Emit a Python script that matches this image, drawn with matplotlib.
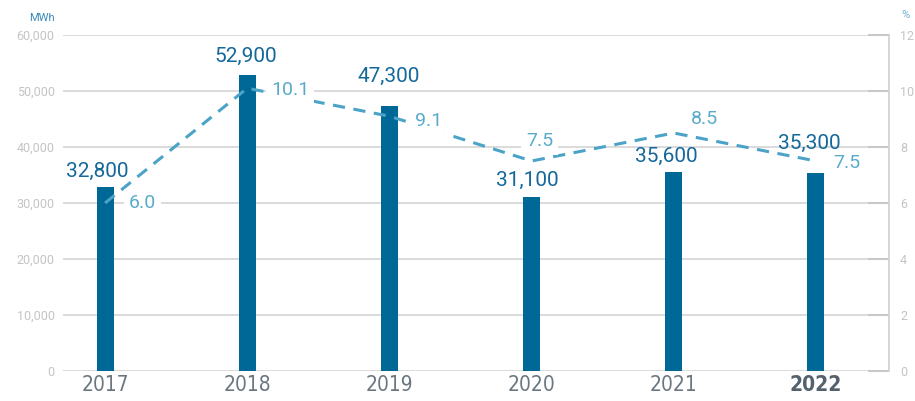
import matplotlib
matplotlib.use("Agg")
import matplotlib.pyplot as plt
from matplotlib import font_manager as fm

years = ["2017", "2018", "2019", "2020", "2021", "2022"]
energy_mwh = [32800, 52900, 47300, 31100, 35600, 35300]
share_pct = [6.0, 10.1, 9.1, 7.5, 8.5, 7.5]
left_ticks = [0, 10000, 20000, 30000, 40000, 50000, 60000]
right_ticks = [0, 2, 4, 6, 8, 10, 12]

plt.rcParams['font.family'] = ['Roboto', 'DejaVu Sans']

BAR = "#006896"
LINE = "#4ba3c7"
BARTXT = "#14689a"
LINETXT = "#5aaaca"
GRID = "#d4d4d4"
TICKTXT = "#c4c4c4"

fig = plt.figure(figsize=(9.15, 4.01), dpi=100)
ax = fig.add_axes([63/915, 1-371/401, (889-63)/915, (371-35)/401])
x = list(range(len(years)))
ax.bar(x, energy_mwh, width=0.12, color=BAR, zorder=3)
ax.set_xlim(-0.296, 5.514)
ax.set_ylim(0, 60000)
ax.set_yticks(left_ticks)
ax.set_yticklabels([f"{v:,}" for v in left_ticks], color=TICKTXT, fontsize=9)
ax.yaxis.grid(True, color=GRID, linewidth=1.2, zorder=0)
ax.tick_params(axis='y', length=0, pad=6)
ax.set_xticks(x)
ax.set_xticklabels(years, fontsize=15, color="#6b7780",
                   fontfamily=['DejaVu Sans'], fontstretch='condensed')
ax.get_xticklabels()[-1].set_fontweight('bold')
ax.get_xticklabels()[-1].set_color("#55626b")
ax.tick_params(axis='x', length=0, pad=3)
for s in ['top', 'left', 'bottom', 'right']:
    ax.spines[s].set_visible(False)

# bar labels
bar_off = [(-8, 16), (-2, 18), (-1, 30), (-4, 16), (-7, 15), (-7, 30)]
for xi, v, (dx, dy) in zip(x, energy_mwh, bar_off):
    ax.annotate(f"{v:,}", (xi, v), xytext=(dx*0.72, dy*0.72), textcoords='offset points',
                ha='center', va='center', fontsize=15, color=BARTXT, zorder=6)

ax2 = ax.twinx()
ax2.set_ylim(0, 12)
ax2.set_yticks(right_ticks)
ax2.set_yticklabels([str(t) for t in right_ticks], color=TICKTXT, fontsize=9)
ax2.tick_params(axis='y', direction='in', length=15, width=1.5, color="#c8c8c8", pad=8)
for s in ['top', 'left', 'bottom']:
    ax2.spines[s].set_visible(False)
ax2.spines['right'].set_color("#cfcfcf")
ax2.spines['right'].set_linewidth(1.2)
ax2.plot(x, share_pct, color=LINE, linewidth=2.2, dashes=(4, 2.8), zorder=4)

line_off = [(37, 0), (43, -2), (39, -5), (8, 20), (31, 14), (31, -2)]
for xi, v, (dx, dy) in zip(x, share_pct, line_off):
    ax2.annotate(f"{v:.1f}", (xi, v), xytext=(dx*0.72, dy*0.72), textcoords='offset points',
                 ha='center', va='center', fontsize=14, color=LINETXT, zorder=5,
                 bbox=dict(boxstyle='square,pad=0.25', fc='white', ec='none'))

fig.text(42/915, 1-18/401, "MWh", color="#3a8ab5", fontsize=8, ha='center', va='center')
fig.text(905/915, 1-15/401, "%", color="#6fb0d0", fontsize=8, ha='center', va='center')

fig.savefig("out.png", dpi=100)
